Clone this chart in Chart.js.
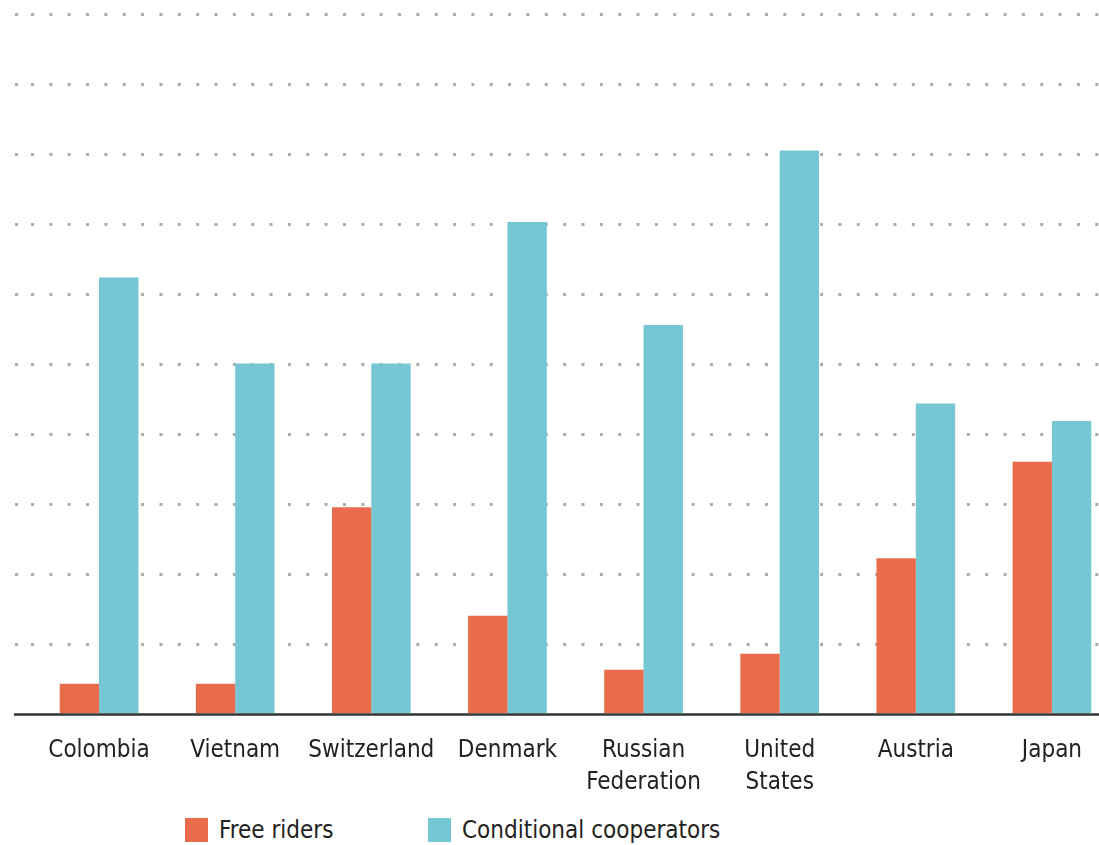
<!DOCTYPE html>
<html>
<head>
<meta charset="utf-8">
<script src="https://cdn.jsdelivr.net/npm/chart.js@4/dist/chart.umd.min.js"></script>
<style>
  html, body { margin: 0; padding: 0; background: #fff; overflow: hidden; }
  #wrap { position: relative; width: 1120px; height: 845px; }
  #legend {
    position: absolute; left: 0; top: 816px; width: 1099px; height: 30px;
    font-family: 'DejaVu Sans Condensed', 'Liberation Sans Narrow', sans-serif;
    font-size: 24px; color: #222;
  }
  .item { position: absolute; top: 0; display: flex; align-items: center; white-space: nowrap; }
  .swatch { width: 23px; height: 24px; margin-right: 11px; }
</style>
</head>
<body>
<div id="wrap">
  <canvas id="chart" width="1120" height="815"></canvas>
  <div id="legend"></div>
</div>
<script>
// countries, share of each player type (%)
const countries = ['Colombia', 'Vietnam', 'Switzerland', 'Denmark', ['Russian', 'Federation'], ['United', 'States'], 'Austria', 'Japan'];
const freeRiders = [4.4, 4.4, 29.6, 14.1, 6.4, 8.7, 22.3, 36.1];
const conditionalCooperators = [62.4, 50.1, 50.1, 70.3, 55.6, 80.5, 44.4, 41.9];
const yTicks = [0, 10, 20, 30, 40, 50, 60, 70, 80, 90, 100];

const ORANGE = '#e86b4b';
const TEAL = '#75c7d4';
const DOT = 'rgba(115, 115, 115, 0.6)';
const DOTS = [3, 15.35];

const FONT = "'DejaVu Sans Condensed', 'Liberation Sans Narrow', sans-serif";

// solid baseline that runs out to the left edge like the original
const baseline = {
  id: 'baseline',
  afterDraw(chart) {
    const y = chart.scales.y.getPixelForValue(0);
    const c = chart.ctx;
    c.save();
    c.strokeStyle = '#333';
    c.lineWidth = 2.5;
    c.beginPath();
    c.moveTo(chart.scales.y.left - 1, y);
    c.lineTo(chart.width, y);
    c.stroke();
    c.restore();
  }
};

const datasets = [
  { label: 'Free riders', data: freeRiders, backgroundColor: ORANGE },
  { label: 'Conditional cooperators', data: conditionalCooperators, backgroundColor: TEAL }
];

const chart = new Chart(document.getElementById('chart'), {
  type: 'bar',
  data: { labels: countries, datasets: datasets },
  options: {
    responsive: false,
    animation: false,
    layout: { padding: { left: 15, top: 14, right: 0, bottom: 4 } },
    datasets: { bar: { barPercentage: 1, categoryPercentage: 0.578 } },
    plugins: { legend: { display: false }, tooltip: { enabled: false } },
    scales: {
      x: {
        grid: { display: false },
        border: { display: false },
        ticks: {
          color: '#222',
          padding: 13,
          maxRotation: 0,
          autoSkip: false,
          font: { family: FONT, size: 24, lineHeight: 1.3 }
        }
      },
      y: {
        min: 0,
        max: 100,
        z: 1,
        afterBuildTicks: (axis) => { axis.ticks = yTicks.map(v => ({ value: v })); },
        ticks: { display: false },
        border: { display: false, dash: DOTS },
        grid: {
          color: (ctx) => ctx.tick && ctx.tick.value === 0 ? 'transparent' : DOT,
          tickColor: (ctx) => ctx.tick && ctx.tick.value === 0 ? 'transparent' : DOT,
          lineWidth: 3,
          tickWidth: 3,
          tickLength: 16,
          tickBorderDash: DOTS
        }
      }
    }
  },
  plugins: [baseline]
});

// legend built from the datasets
const legendLeft = [185, 428];
document.getElementById('legend').innerHTML = datasets.map((d, i) => `
  <div class="item" style="left:${legendLeft[i]}px"><span class="swatch" style="background:${d.backgroundColor}"></span>${d.label}</div>
`).join('');
</script>
</body>
</html>
